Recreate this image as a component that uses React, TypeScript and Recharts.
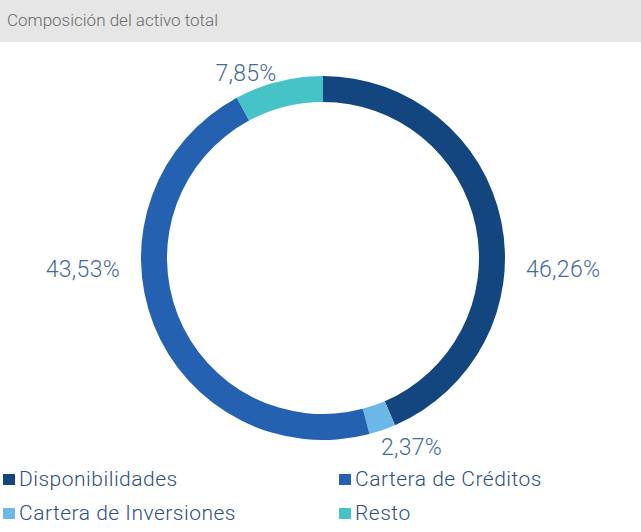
import { PieChart, Pie, Cell } from 'recharts';

// slices in drawing order (clockwise from 12 o'clock)
const sliceNames = ['Disponibilidades', 'Cartera de Inversiones', 'Cartera de Créditos', 'Resto'];
// arc sizes as drawn in the source image
const sliceValues = [43.53, 2.37, 46.26, 7.85];
// percentage labels as printed next to each arc in the source
const sliceLabels = ['46,26%', '2,37%', '43,53%', '7,85%'];
const sliceColors = ['#13467f', '#6bb7e7', '#2462b1', '#46c3c6'];

// legend reads row by row, two columns
const legendOrder = ['Disponibilidades', 'Cartera de Créditos', 'Cartera de Inversiones', 'Resto'];

const data = sliceNames.map((name, i) => ({ name, value: sliceValues[i], label: sliceLabels[i] }));

const RADIAN = Math.PI / 180;

const renderLabel = (props: any) => {
  const { cx, cy, outerRadius, midAngle, payload } = props;
  const cos = Math.cos(-midAngle * RADIAN);
  const sin = Math.sin(-midAngle * RADIAN);
  let x = cx + (outerRadius + 8) * cos;
  let y = cy + (outerRadius + 8) * sin;
  const anchor = cos >= 0 ? 'start' : 'end';
  if (Math.abs(cos) > 0.8) {
    // side labels sit a bit under the centre line
    x = cx + (outerRadius + 21) * Math.sign(cos);
    y = cy + 11;
  } else if (sin > 0) {
    // labels under the ring need a bit more room for the glyph height
    x -= 4;
    y += 10;
  }
  return (
    <text
      x={x}
      y={y}
      textAnchor={anchor}
      dominantBaseline="central"
      fill="#436a9f"
      fontSize={23}
      fontWeight={300}
      letterSpacing={0.3}
      fontFamily="Roboto, sans-serif"
    >
      {payload.label}
    </text>
  );
};

export default function App() {
  return (
    <div
      style={{
        position: 'absolute',
        left: 0,
        top: 0,
        width: 641,
        height: 532,
        background: '#fff',
        fontFamily: 'Roboto, sans-serif',
      }}
    >
      <div
        style={{
          height: 42,
          background: '#e6e6e6',
          color: '#6b6b6b',
          fontSize: 17,
          fontWeight: 300,
          lineHeight: '40px',
          paddingLeft: 7,
        }}
      >
        Composición del activo total
      </div>
      <PieChart width={641} height={480} margin={{ top: 0, right: 0, bottom: 0, left: 0 }}>
        <Pie
          data={data}
          dataKey="value"
          nameKey="name"
          cx={323}
          cy={216}
          outerRadius={182}
          innerRadius={156}
          startAngle={90}
          endAngle={-270}
          stroke="none"
          label={renderLabel}
          labelLine={false}
          isAnimationActive={false}
        >
          {data.map((d, i) => (
            <Cell key={d.name} fill={sliceColors[i]} />
          ))}
        </Pie>
      </PieChart>
      <div
        style={{
          position: 'absolute',
          left: 3,
          top: 466,
          width: 636,
          display: 'grid',
          gridTemplateColumns: '336px 1fr',
          rowGap: 8,
          zIndex: 1,
        }}
      >
        {legendOrder.map((name) => {
          const i = sliceNames.indexOf(name);
          return (
            <div
              key={name}
              style={{
                display: 'flex',
                alignItems: 'center',
                height: 26,
                color: '#2e4f80',
                fontSize: 21,
                fontWeight: 300,
                letterSpacing: 0.5,
              }}
            >
              <span style={{ width: 12, height: 11, background: sliceColors[i], marginRight: 4, flex: 'none' }} />
              {name}
            </div>
          );
        })}
      </div>
    </div>
  );
}
